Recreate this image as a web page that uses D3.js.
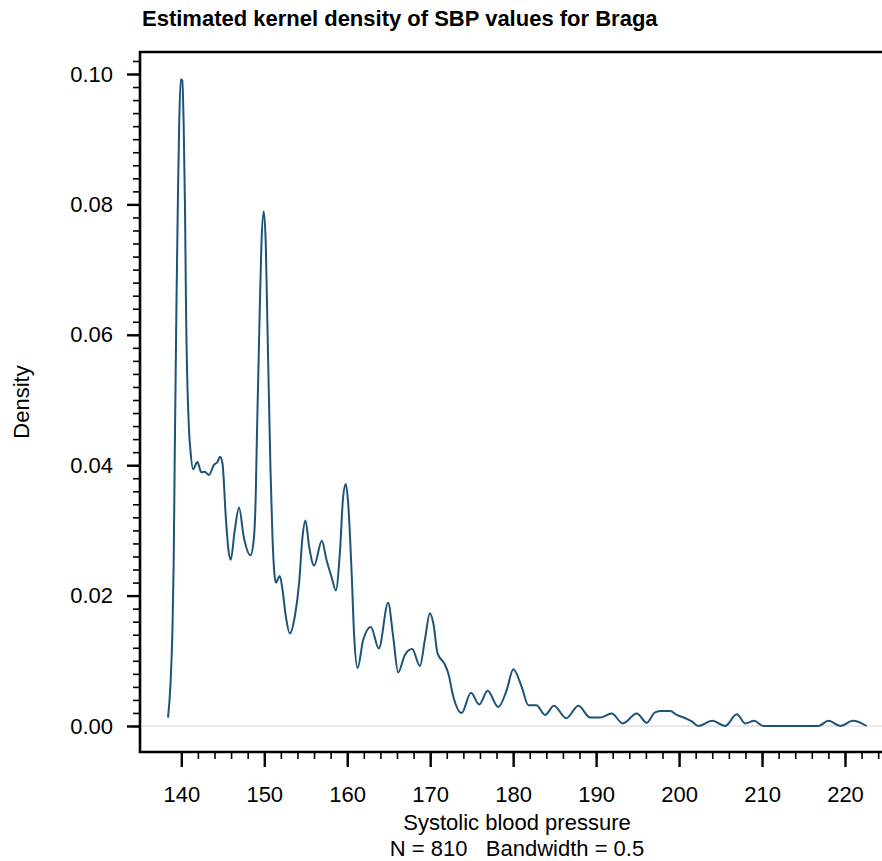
<!DOCTYPE html>
<html><head><meta charset="utf-8">
<script src="https://cdn.jsdelivr.net/npm/d3@7"></script>
<style>
body{margin:0;background:#fff;}
text{font-family:"Liberation Sans",Arial,Helvetica,sans-serif;fill:#000;}
</style>
</head><body>
<svg id="chart" width="882" height="861"></svg>
<script>
// SBP grid points and estimated density
const sbp = [138.4,138.7,138.93,139.08,139.2,139.41,139.6,139.75,139.93,140.12,140.29,140.45,140.57,140.93,141.1,141.41,141.94,142.42,142.82,143.34,143.91,144.35,144.67,144.96,145.36,145.68,145.96,146.44,146.96,147.53,148.34,148.73,148.97,149.13,149.46,149.66,149.94,150.18,150.34,150.75,150.99,151.19,151.39,151.87,152.2,152.6,153.08,153.68,154.2,154.61,154.97,155.41,156.01,156.94,157.5,158.1,158.63,159.11,159.51,159.83,160.11,160.52,160.84,161.25,161.92,162.85,163.81,164.93,165.54,166.14,166.95,167.83,168.76,169.36,169.97,170.37,170.9,171.7,172.18,172.79,173.79,174.91,175.91,176.93,178.2,179.22,180.02,181.03,181.83,182.8,183.85,184.92,186.4,187.86,189.27,190.47,191.88,193.21,194.9,196.1,197.1,197.9,198.93,199.73,200.73,201.54,202.34,204.0,205.56,206.96,207.96,209.05,210.17,216.8,218.0,219.45,220.96,222.6];
const density = [0.0013,0.0065,0.0147,0.025,0.0403,0.0641,0.0817,0.0925,0.0992,0.099,0.0919,0.0791,0.0641,0.0454,0.0423,0.0394,0.0405,0.0389,0.039,0.0385,0.040,0.0405,0.0413,0.0403,0.0321,0.027,0.0255,0.030,0.0335,0.029,0.0262,0.0285,0.0352,0.0454,0.0641,0.074,0.0789,0.074,0.0641,0.0393,0.029,0.0239,0.022,0.023,0.0209,0.0168,0.0142,0.0168,0.0219,0.029,0.0315,0.0275,0.0246,0.0284,0.0255,0.0229,0.0208,0.0265,0.0352,0.0371,0.0342,0.0239,0.0137,0.0089,0.0132,0.0152,0.0119,0.0189,0.0137,0.0082,0.0109,0.0118,0.0092,0.0132,0.0173,0.0158,0.0111,0.0096,0.0081,0.0045,0.002,0.0051,0.0033,0.0054,0.0029,0.0055,0.0087,0.006,0.0032,0.0032,0.0017,0.0031,0.0012,0.0031,0.0013,0.0013,0.0019,0.0004,0.0019,0.0005,0.0021,0.0023,0.0023,0.0017,0.0012,0.0007,0.0,0.0008,0.0,0.0018,0.0004,0.0008,0.0,0.0,0.0008,0.0,0.0008,0.0];

const xMajorTicks = [140,150,160,170,180,190,200,210,220];
const xMinorTicks = d3.range(140, 225, 2);
const yMajorTicks = [0,0.02,0.04,0.06,0.08,0.10];
const yMajorLabels = ["0.00","0.02","0.04","0.06","0.08","0.10"];
const yMinorTicks = d3.range(0, 52).map(i => i*0.002);

const titleText = "Estimated kernel density of SBP values for Braga";
const xTitle = "Systolic blood pressure";
const xNote = "N = 810   Bandwidth = 0.5";
const yTitle = "Density";

const svg = d3.select("#chart");
const pLeft = 140, pTop = 52, pBottom = 752, pRight = 882;
const x = d3.scaleLinear().domain([140, 220]).range([181.3, 845]);
const y = d3.scaleLinear().domain([0, 0.10]).range([726, 74]);
const FS = 22;

// zero reference line
svg.append("line").attr("x1", pLeft).attr("x2", pRight).attr("y1", y(0)).attr("y2", y(0))
  .attr("stroke", "#cfcfcf").attr("stroke-width", 1.2);

// density curve
const pts = sbp.map((v,i)=>[v, density[i]]);
svg.append("path").datum(pts)
  .attr("fill","none").attr("stroke","#1c5479").attr("stroke-width",2)
  .attr("stroke-linejoin","round")
  .attr("d", d3.line().x(d=>x(d[0])).y(d=>y(d[1])).curve(d3.curveMonotoneX));

// Y axis minor + major
const yMinor = svg.append("g").attr("transform",`translate(${pLeft},0)`)
  .call(d3.axisLeft(y).tickValues(yMinorTicks).tickSize(7).tickFormat(""));
yMinor.select(".domain").remove();
yMinor.selectAll("line").attr("stroke-width",1.6);
const yMajor = svg.append("g").attr("transform",`translate(${pLeft},0)`)
  .call(d3.axisLeft(y).tickValues(yMajorTicks).tickSize(13).tickPadding(14)
    .tickFormat((d,i)=>yMajorLabels[i]));
yMajor.select(".domain").remove();
yMajor.selectAll("line").attr("stroke-width",2.4);
yMajor.selectAll("text").attr("font-size",FS).attr("font-family",null);

// X axis minor + major
const xMinor = svg.append("g").attr("transform",`translate(0,${pBottom})`)
  .call(d3.axisBottom(x).tickValues(xMinorTicks).tickSize(7).tickFormat(""));
xMinor.select(".domain").remove();
xMinor.selectAll("line").attr("stroke-width",1.6);
const xMajor = svg.append("g").attr("transform",`translate(0,${pBottom})`)
  .call(d3.axisBottom(x).tickValues(xMajorTicks).tickSize(15).tickPadding(19).tickFormat(d3.format("d")));
xMajor.select(".domain").remove();
xMajor.selectAll("line").attr("stroke-width",2.4);
xMajor.selectAll("text").attr("font-size",FS).attr("font-family",null);

// frame lines
svg.append("path").attr("d",`M${pRight},${pTop}H${pLeft}V${pBottom}H${pRight}`)
  .attr("fill","none").attr("stroke","#000").attr("stroke-width",2.6);

// titles
svg.append("text").attr("x",142).attr("y",26).attr("font-size",22).attr("font-weight","bold").text(titleText);
svg.append("text").attr("x",517).attr("y",830).attr("text-anchor","middle").attr("font-size",FS).text(xTitle);
svg.append("text").attr("x",517).attr("y",856).attr("text-anchor","middle").attr("font-size",FS)
  .style("white-space","pre").text(xNote);
svg.append("text").attr("transform","translate(29,402) rotate(-90)").attr("text-anchor","middle").attr("font-size",FS).text(yTitle);
</script>
</body></html>
